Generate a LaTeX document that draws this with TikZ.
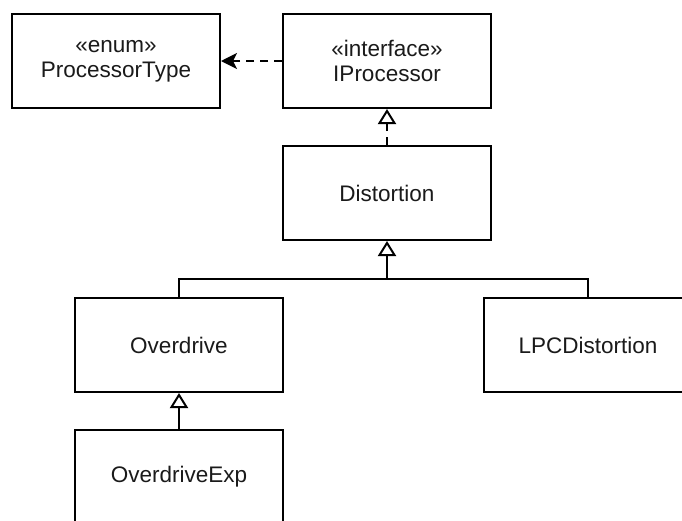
\documentclass[tikz,border=0pt]{standalone}
\usepackage{fontspec}
\setmainfont{Liberation Sans}
\usetikzlibrary{arrows.meta,calc}
\definecolor{txt}{HTML}{1A1A1A}
\begin{document}
\begin{tikzpicture}[x=1pt,y=-1pt,
  cls/.style={draw=black, line width=2pt, fill=white, minimum width=208pt,
    minimum height=94pt, inner sep=0pt, align=center, text=txt,
    font=\fontsize{22.5}{25}\selectfont},
  conn/.style={line width=2pt, draw=black},
  inh/.style={conn, -{Triangle[open, length=15pt, width=18pt]}},
  dep/.style={conn, dash pattern=on 8pt off 6pt,
    -{Stealth[length=16pt, width=16pt, inset=4pt]}}]
  \useasboundingbox (0,0) rectangle (682,520);
  \clip (0,0) rectangle (682,520);
  \fill[white] (0,0) rectangle (682,520);

  % classes
  \node[cls] (pt)   at (116,61)  {«enum»\\ProcessorType};
  \node[cls] (ipr)  at (387,61)  {«interface»\\IProcessor};
  \node[cls] (dist) at (387,193) {Distortion};
  \node[cls] (od)   at (179,345) {Overdrive};
  \node[cls] (lpc)  at (588,345) {LPCDistortion};
  \node[cls] (odx)  at (179,477) {OverdriveExp};

  % dependency and realization
  \draw[dep] (ipr.west) -- (pt.east);
  \draw[inh, dash pattern=on 8pt off 6pt] (dist.north) -- (ipr.south);

  % generalizations
  \coordinate (jn) at ($(dist.south)+(0,38)$);
  \draw[conn] (lpc.north) |- (jn);
  \draw[inh] (od.north) |- (jn) -- (dist.south);
  \draw[inh] (odx.north) -- (od.south);
\end{tikzpicture}
\end{document}
